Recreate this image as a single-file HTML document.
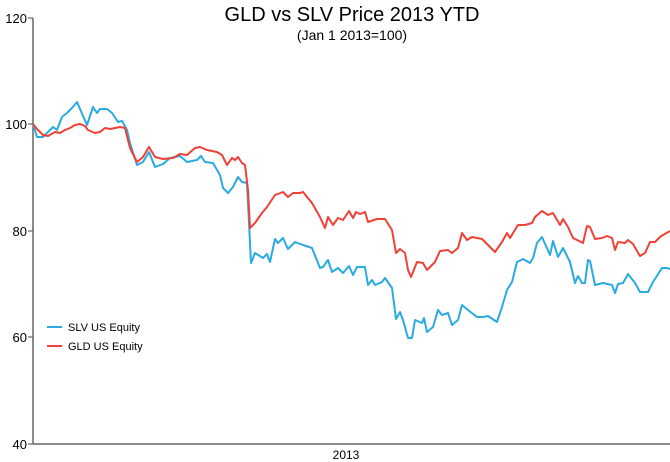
<!DOCTYPE html>
<html><head><meta charset="utf-8"><style>
html,body{margin:0;padding:0;background:#fff;}
svg{display:block;font-family:"Liberation Sans",sans-serif;}
</style></head><body>
<svg width="670" height="462" viewBox="0 0 670 462" xmlns="http://www.w3.org/2000/svg">
<text x="352" y="21" font-size="20" text-anchor="middle" fill="#000">GLD vs SLV Price 2013 YTD</text>
<text x="352" y="40" font-size="14" text-anchor="middle" fill="#000">(Jan 1 2013=100)</text>
<line x1="33" y1="18" x2="33" y2="444" stroke="#666" stroke-width="1.5"/>
<line x1="33" y1="444" x2="670" y2="444" stroke="#666" stroke-width="1.5"/>
<g stroke="#666" stroke-width="1.2">
<line x1="28" y1="18" x2="33" y2="18"/><line x1="28" y1="124" x2="33" y2="124"/>
<line x1="28" y1="231" x2="33" y2="231"/><line x1="28" y1="337" x2="33" y2="337"/>
<line x1="28" y1="444" x2="33" y2="444"/>
</g>
<g font-size="13" text-anchor="end" fill="#000">
<text x="27" y="23">120</text><text x="27" y="129">100</text><text x="27" y="236">80</text>
<text x="27" y="342">60</text><text x="27" y="449">40</text>
</g>
<text x="346" y="459" font-size="12" text-anchor="middle">2013</text>
<polyline fill="none" stroke="#29abe2" stroke-width="2" stroke-linejoin="round" points="33,124 37,137 43,137 53,127 57,130 62,117 67,113 72,108 77,102 87,125 93,107 97,113 100,109 107,109 112,113 118,122 122,121 127,130 130,143 137,165 143,162 149,152 155,167 163,164 170,158 180,156 187,162 197,160 201,156 205,162 213,163 220,175 223,188 228,193 233,187 238,177 242,182 247,183 251,263 255,253 263,258 267,254 270,262 275,239 278,243 283,238 288,249 295,242 303,245 312,248 320,268 323,267 328,260 332,272 338,268 343,273 349,266 353,275 357,267 365,267 368,285 372,280 375,285 382,282 385,278 392,288 396,319 400,312 403,320 408,338 412,338 415,320 422,323 424,318 427,332 433,327 438,310 442,315 448,313 452,325 458,320 462,305 468,310 477,317 483,317 488,316 497,322 502,307 507,290 512,282 517,262 523,259 530,263 533,258 537,243 542,237 550,255 553,241 558,257 563,248 570,262 575,283 578,276 582,283 585,283 588,260 590,261 595,285 603,283 612,285 615,293 618,284 623,283 628,274 635,283 640,292 648,292 653,282 662,268 667,268 670,269"/>
<polyline fill="none" stroke="#ef4136" stroke-width="2" stroke-linejoin="round" points="33,124 37,129 43,135 48,136 55,132 60,133 65,130 70,128 75,125 80,124 85,126 88,130 95,133 100,132 105,128 110,129 115,128 120,127 125,128 128,140 130,148 137,162 143,157 149,147 155,157 163,159 173,158 180,154 187,155 195,148 200,147 207,150 217,152 222,155 227,165 232,158 235,160 238,157 242,163 245,165 248,190 250,228 255,223 262,213 267,207 275,195 283,192 288,197 293,193 300,193 303,192 312,203 320,217 325,228 328,217 333,225 338,218 343,220 349,211 353,218 356,212 360,214 365,212 368,222 377,219 385,219 392,230 396,253 400,249 405,253 408,270 411,277 417,262 423,263 427,270 435,262 440,251 448,250 452,253 458,248 462,233 467,240 472,237 482,239 488,245 495,252 502,242 507,233 510,238 518,225 525,225 532,223 535,217 542,211 548,215 553,213 560,225 563,219 568,227 573,238 577,240 583,243 587,226 590,227 595,239 602,238 607,236 612,238 615,250 618,242 625,243 628,240 633,244 640,256 645,253 650,242 655,242 660,237 663,235 670,231"/>
<line x1="47" y1="327" x2="62" y2="327" stroke="#29abe2" stroke-width="2"/>
<line x1="47" y1="346" x2="62" y2="346" stroke="#ef4136" stroke-width="2"/>
<text x="68" y="331" font-size="11">SLV US Equity</text>
<text x="68" y="350" font-size="11">GLD US Equity</text>
</svg>
</body></html>
